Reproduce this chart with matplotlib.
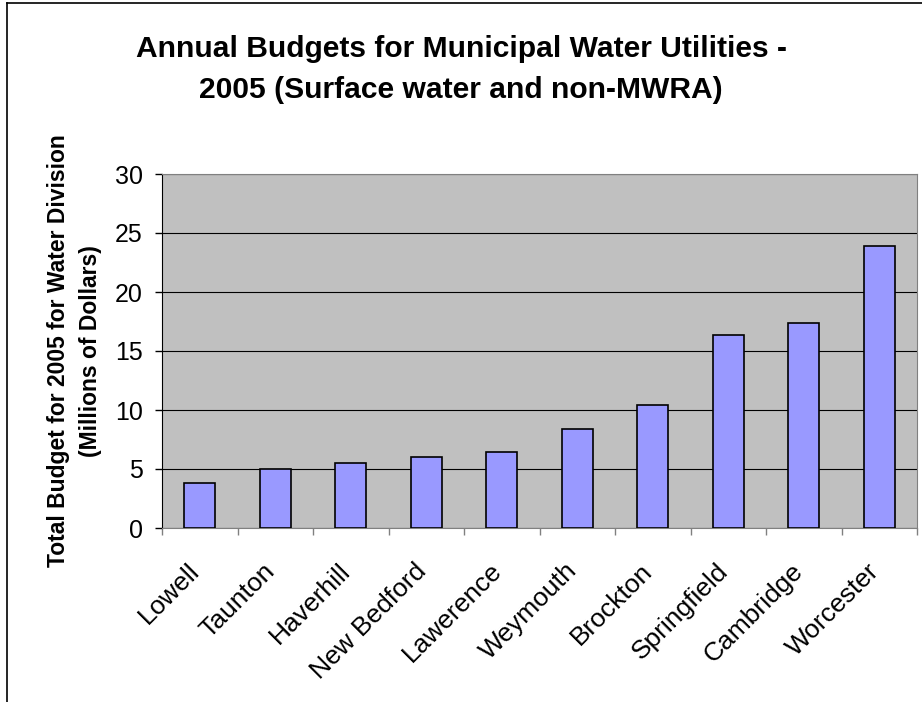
import matplotlib.pyplot as plt
from matplotlib.lines import Line2D

plt.rcParams['font.family'] = ['Liberation Sans', 'DejaVu Sans']

# 2005 water division budgets, millions of dollars
cities = ['Lowell', 'Taunton', 'Haverhill', 'New Bedford', 'Lawerence',
          'Weymouth', 'Brockton', 'Springfield', 'Cambridge', 'Worcester']
budgets = [3.8, 5.0, 5.5, 6.0, 6.4, 8.4, 10.4, 16.35, 17.4, 23.9]
yticks = [0, 5, 10, 15, 20, 25, 30]
title_lines = ['Annual Budgets for Municipal Water Utilities -',
               '2005 (Surface water and non-MWRA)']

W, H = 922, 702
fig = plt.figure(figsize=(W / 100, H / 100), dpi=100)
# plot area in pixels: x 162..917, y 174..528
ax = fig.add_axes([162 / W, 1 - 528 / H, (917 - 162) / W, (528 - 174) / H])

x = range(len(cities))
ax.bar(x, budgets, width=0.41, color='#9999FF', edgecolor='black', linewidth=1.2, zorder=3)

ax.set_facecolor('#C0C0C0')
ax.set_xlim(-0.5, len(cities) - 0.5)
ax.set_ylim(0, 30)
ax.set_yticks(yticks)
ax.yaxis.grid(True, color='black', linewidth=0.8)
ax.set_axisbelow(True)

# category ticks sit between the bars
ax.set_xticks([i - 0.5 for i in range(len(cities) + 1)])
ax.set_xticklabels([])
ax.tick_params(axis='x', direction='out', length=5, color='#808080', width=1)
ax.tick_params(axis='y', direction='out', length=5, color='black', width=1,
               labelsize=18, pad=9)
for i, name in enumerate(cities):
    ax.annotate(name, xy=(i, 0), xycoords=('data', 'axes fraction'),
                xytext=(-9, -22), textcoords='offset points',
                rotation=45, ha='right', va='top', rotation_mode='anchor', fontsize=19)

for side in ['top', 'right', 'bottom']:
    ax.spines[side].set_color('#808080')
ax.spines['left'].set_color('black')

ax.set_ylabel('Total Budget for 2005 for Water Division\n(Millions of Dollars)',
              fontsize=16.5, fontweight='bold', linespacing=1.5)
ax.yaxis.set_label_coords(-0.08, 0.5)

# two-line chart title centred on the figure
fig.text(0.5, 1 - 57 / H, title_lines[0], ha='center', va='baseline',
         fontsize=21.6, fontweight='bold')
fig.text(0.5, 1 - 98 / H, title_lines[1], ha='center', va='baseline',
         fontsize=21.6, fontweight='bold')

# chart frame on the left and top edges
fig.add_artist(Line2D([7 / W, 7 / W], [0, 1 - 3 / H], color='black', linewidth=1.2,
                      transform=fig.transFigure))
fig.add_artist(Line2D([7 / W, 1.0], [1 - 3 / H, 1 - 3 / H], color='black', linewidth=1.2,
                      transform=fig.transFigure))

fig.savefig('out.png', dpi=100)
